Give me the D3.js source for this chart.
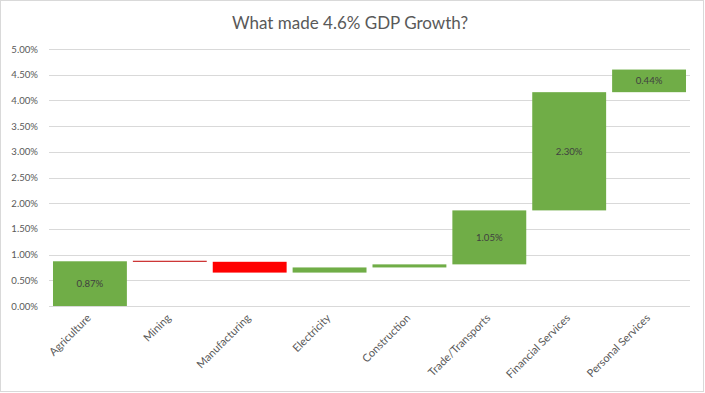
<!DOCTYPE html>
<html>
<head>
<meta charset="utf-8">
<script src="https://cdn.jsdelivr.net/npm/d3@7"></script>
<style>
  html, body { margin: 0; padding: 0; background: #fff; }
  svg { display: block; }
  text { font-family: Lato, "Open Sans", sans-serif; }
</style>
</head>
<body>
<svg id="chart" width="705" height="393"></svg>
<script>
const title = "What made 4.6% GDP Growth?";
const categories = ["Agriculture", "Mining", "Manufacturing", "Electricity", "Construction", "Trade/Transports", "Financial Services", "Personal Services"];
const values = [0.87, -0.01, -0.21, 0.10, 0.06, 1.05, 2.30, 0.44];
const yTicks = [0, 0.5, 1.0, 1.5, 2.0, 2.5, 3.0, 3.5, 4.0, 4.5, 5.0];

const W = 705, H = 393;
const margin = { left: 49, right: 15, top: 49, bottom: 87 };
const svg = d3.select("#chart");

svg.append("rect")
  .attr("x", 0.5).attr("y", 0.5)
  .attr("width", W - 2).attr("height", H - 2)
  .attr("fill", "#fff").attr("stroke", "#d9d9d9");

const x = d3.scaleBand()
  .domain(categories)
  .range([margin.left, W - margin.right])
  .paddingInner(0.075)
  .paddingOuter(0.05);

const y = d3.scaleLinear()
  .domain([0, 5])
  .range([H - margin.bottom, margin.top]);

// gridlines
svg.append("g")
  .selectAll("line")
  .data(yTicks)
  .join("line")
  .attr("x1", margin.left).attr("x2", W - margin.right)
  .attr("y1", d => Math.round(y(d)) + 0.5).attr("y2", d => Math.round(y(d)) + 0.5)
  .attr("stroke", "#d9d9d9").attr("stroke-width", 1);

// y axis labels
const yAxis = d3.axisLeft(y).tickValues(yTicks).tickSize(0).tickPadding(11)
  .tickFormat(d => d.toFixed(2) + "%");
const gy = svg.append("g").attr("transform", `translate(${margin.left},0)`).call(yAxis);
gy.select(".domain").remove();
gy.selectAll("text").attr("fill", "#595959").style("font-size", "9.6px")
  .style("font-family", "Lato, sans-serif");

// waterfall computation
let running = 0;
const bars = categories.map((c, i) => {
  const start = running;
  const end = running + values[i];
  running = end;
  return { cat: c, v: values[i], start, end };
});

const gBars = svg.append("g");
bars.forEach(b => {
  const y0 = y(Math.max(b.start, b.end));
  const y1 = y(Math.min(b.start, b.end));
  const h = y1 - y0;
  const thin = h < 1.5;
  gBars.append("rect")
    .attr("x", x(b.cat))
    .attr("y", thin ? y0 - 0.5 : y0)
    .attr("width", x.bandwidth())
    .attr("height", thin ? 1 : h)
    .attr("fill", b.v >= 0 ? "#70ad47" : (thin ? "#c00000" : "#ff0000"));
  if (Math.abs(b.v) >= 0.3) {
    gBars.append("text")
      .attr("x", x(b.cat) + x.bandwidth() / 2)
      .attr("y", (y0 + y1) / 2)
      .attr("dy", "0.35em")
      .attr("text-anchor", "middle")
      .attr("fill", "#404040")
      .style("font-size", "9.6px")
      .text(b.v.toFixed(2) + "%");
  }
});

// x labels
const gx = svg.append("g");
categories.forEach(c => {
  gx.append("text")
    .attr("transform", `translate(${x(c) + x.bandwidth() / 2 - 1},${y(0) + 10}) rotate(-45)`)
    .attr("text-anchor", "end")
    .attr("dy", "0.35em")
    .attr("fill", "#595959")
    .style("font-size", "11px")
    .text(c);
});

// title
svg.append("text")
  .attr("x", 350).attr("y", 29)
  .attr("text-anchor", "middle")
  .attr("fill", "#595959")
  .style("font-size", "17px")
  .text(title);
</script>
</body>
</html>
